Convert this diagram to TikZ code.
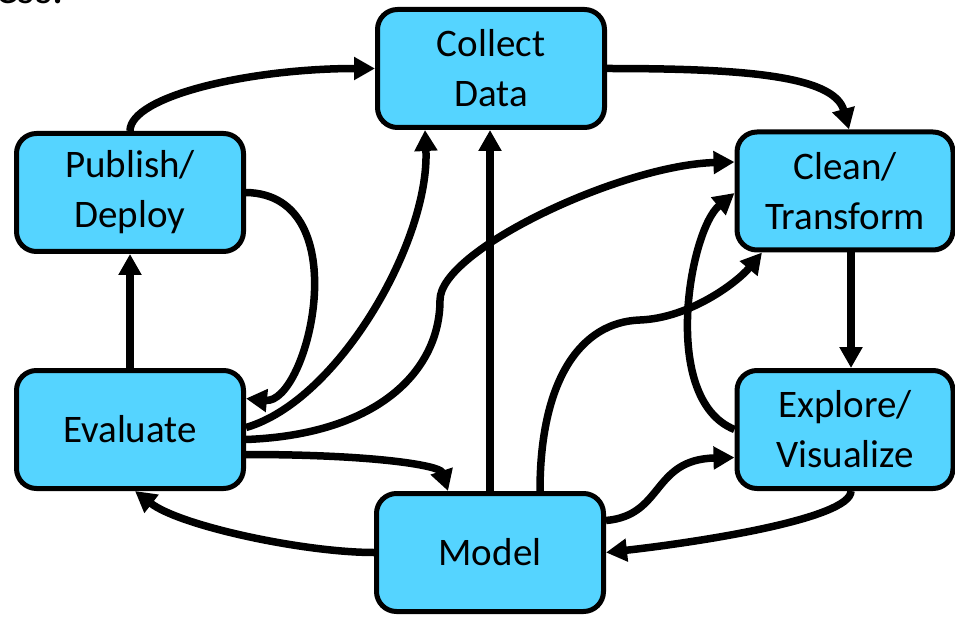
\documentclass[tikz,border=0pt]{standalone}
\usepackage{fontspec}
\setmainfont{Carlito}
\usetikzlibrary{calc,arrows.meta}
\definecolor{boxblue}{RGB}{85,212,255}
\tikzset{
  stage/.style={draw, line width=5pt, fill=boxblue, rounded corners=20pt, minimum width=227pt, minimum height=118pt, inner sep=0pt, align=center, font=\fontsize{39}{50}\selectfont},
  flow/.style={line width=7.5pt, -{Triangle[length=21pt,width=22pt]}}
}

\begin{document}
\begin{tikzpicture}[x=1pt,y=-1pt]
\useasboundingbox (0,0) rectangle (955,617);
\node[anchor=base east, font=\fontsize{44}{50}\selectfont] (ttl) at (67,4) {ess.};

\node[stage] (col) at (491,68.5) {Collect\\Data};
\node[stage] (pub) at (130,192.5) {Publish/\\Deploy};
\node[stage] (eva) at (130,429.5) {Evaluate};
\node[stage] (mod) at (490,552.5) {Model};
\node[stage, minimum width=216pt] (cle) at (845,191) {Clean/\\Transform};
\node[stage, minimum width=216pt] (exp) at (845,429.5) {Explore/\\Visualize};

% outer ring
\draw[flow] (pub.north) .. controls +(0,-35) and +(-125,0) .. (col.west);
\draw[flow] (col.east) .. controls +(130,0) and +(-15,-55) .. ([xshift=4pt]cle.north);
\draw[flow] ([xshift=6pt]cle.south) -- ([xshift=6pt]exp.north);
\draw[flow] ([xshift=6pt]exp.south) .. controls +(0,28) and +(90,-10) .. (mod.east);
\draw[flow] (mod.west) .. controls +(-70,0) and +(45,35) .. ([xshift=5pt]eva.south);
\draw[flow] (eva.north) -- (pub.south);

% cross links
\draw[flow] (pub.east) .. controls +(113,2) and +(62,6) .. ([yshift=31pt]eva.east);
\draw[flow] ([yshift=2pt]eva.east) .. controls +(93,-27) and +(5,110) .. ([xshift=-66pt]col.south);
\draw[flow] ([yshift=-10pt]eva.east) .. controls +(133,-5) and +(0,70) .. (440,300)
  .. controls +(0,-50) and +(-113,3) .. ([yshift=29pt]cle.west);
\draw[flow] ([yshift=-25pt]eva.east) .. controls +(133,0) and +(-8,-25) .. ([xshift=-42pt]mod.north);
\draw[flow] (mod.north) -- (mod.north |- col.south);
\draw[flow] ([xshift=50pt]mod.north) .. controls +(0,-110) and +(-60,2) .. (640,320)
  .. controls +(50,-2) and +(-25,30) .. ([xshift=-83pt]cle.south);
\draw[flow] (exp.west) .. controls +(-75,-30) and +(-45,37) .. ([yshift=-2pt]cle.west);
\draw[flow] ([yshift=32pt]mod.east) .. controls +(58,-5) and +(-83,2) .. ([yshift=-28pt]exp.west);
%\draw[red] (0,0) grid[step=50] (955,617);
\end{tikzpicture}
\end{document}
